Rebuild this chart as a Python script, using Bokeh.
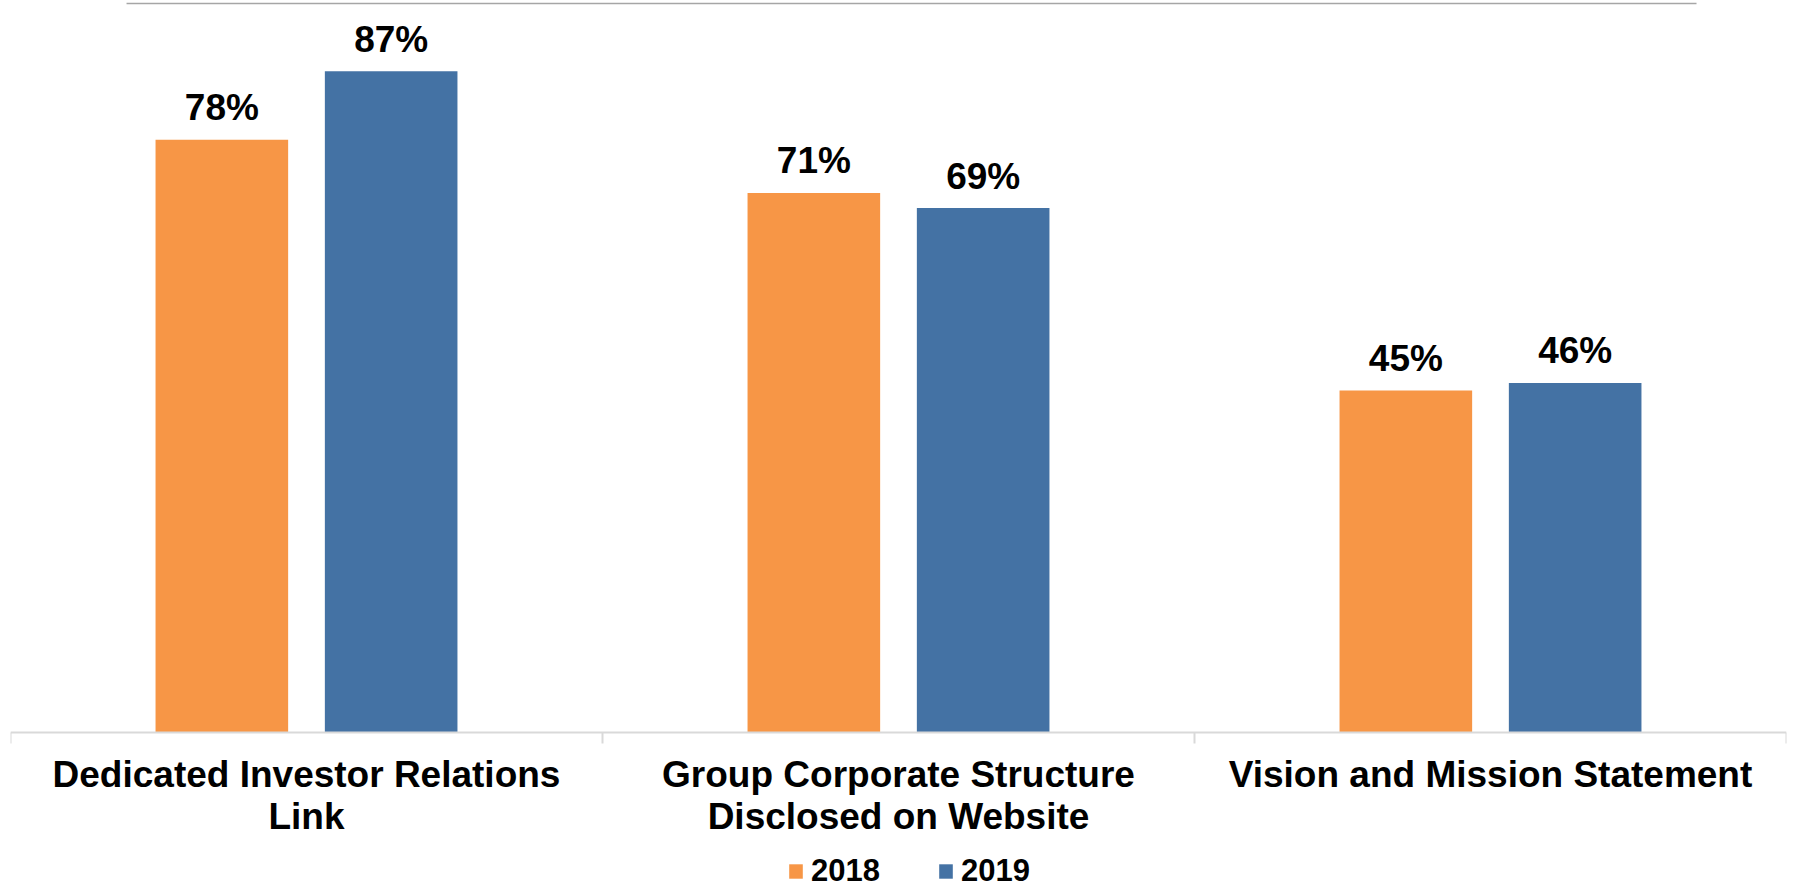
from bokeh.plotting import figure
from bokeh.models import (Range1d, LinearAxis, FixedTicker, Legend,
                          LegendItem, ColumnDataSource)
from bokeh.transform import dodge
from bokeh.core.properties import value
from bokeh.embed import file_html
from bokeh.resources import INLINE

# ---- data ----
categories = ["Dedicated Investor Relations\nLink",
              "Group Corporate Structure\nDisclosed on Website",
              "Vision and Mission Statement"]
series = ["2018", "2019"]
values_2018 = [78, 71, 45]
values_2019 = [87, 69, 46]

# ---- style ----
ORANGE = "#F79646"
BLUE = "#4472A4"
AXIS_GREY = "#D9D9D9"
FONT = "Liberation Sans"

n = len(categories)
centers = [i + 0.5 for i in range(n)]          # category slot centres

src = ColumnDataSource(dict(
    xc=centers,
    v2018=values_2018,
    v2019=values_2019,
    l2018=[f"{v}%" for v in values_2018],
    l2019=[f"{v}%" for v in values_2019],
))

Y_TOP = 96.32
Y_BOTTOM = -19.74   # room below the baseline for category labels and legend
p = figure(x_range=Range1d(0, n), y_range=Range1d(Y_BOTTOM, Y_TOP),
           width=1793, height=882,
           min_border_left=10, min_border_right=7,
           min_border_top=0, min_border_bottom=0,
           x_axis_location=None, y_axis_location=None,
           toolbar_location=None, output_backend="svg",
           outline_line_color=None)
p.grid.visible = False

OFF = 0.143
W = 0.224
r1 = p.vbar(x=dodge("xc", -OFF), top="v2018", bottom=0, width=W,
            source=src, fill_color=ORANGE, line_color=None)
r2 = p.vbar(x=dodge("xc", OFF), top="v2019", bottom=0, width=W,
            source=src, fill_color=BLUE, line_color=None)

for key, off in (("2018", -OFF), ("2019", OFF)):
    p.text(x=dodge("xc", off), y="v" + key, text="l" + key,
           source=src, text_align="center", text_baseline="alphabetic",
           y_offset=-32, text_font=value(FONT), text_font_style="bold",
           text_font_size="37px", text_color="black")

# category axis at the zero baseline, with separators between categories
ax = LinearAxis(fixed_location=0,
                ticker=FixedTicker(ticks=centers, minor_ticks=list(range(n + 1))),
                major_label_overrides={c: lab for c, lab in zip(centers, categories)},
                major_tick_line_color=None, major_tick_in=0, major_tick_out=0,
                minor_tick_in=0, minor_tick_out=11,
                minor_tick_line_color=AXIS_GREY, minor_tick_line_width=2,
                axis_line_color=AXIS_GREY, axis_line_width=2,
                major_label_text_font=FONT, major_label_text_font_style="bold",
                major_label_text_font_size="37px", major_label_text_color="black",
                major_label_text_line_height=1.02,
                major_label_standoff=11)
p.add_layout(ax, "below")

# thin grey rule across the top
p.segment(x0=[0.196], y0=[Y_TOP - 0.4], x1=[2.848], y1=[Y_TOP - 0.4],
          line_color="#A6A6A6", line_width=1.5)

legend = Legend(items=[LegendItem(label=series[0], renderers=[r1]),
                       LegendItem(label=series[1], renderers=[r2])],
                orientation="horizontal", location=(777, -7),
                glyph_width=17, glyph_height=18, label_standoff=7, spacing=57,
                padding=0, margin=0, border_line_color=None,
                background_fill_alpha=0,
                label_text_font=FONT, label_text_font_style="bold",
                label_text_font_size="31px", label_text_color="black")
p.add_layout(legend, "center")

open("out.html", "w").write(file_html(p, INLINE))
